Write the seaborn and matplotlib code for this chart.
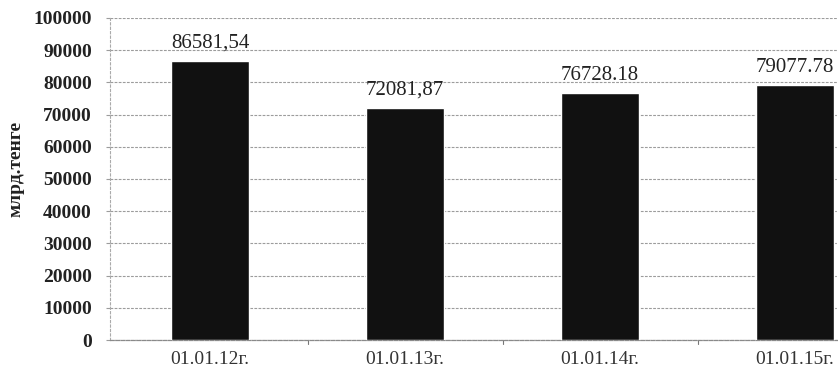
import matplotlib
matplotlib.use("Agg")
import matplotlib.pyplot as plt
import seaborn as sns
import pandas as pd

# Values on 1 January of each year, bn tenge
dates = ["01.01.12г.", "01.01.13г.", "01.01.14г.", "01.01.15г."]
values = [86581.54, 72081.87, 76728.18, 79077.78]
value_labels = ["86581,54", "72081,87", "76728.18", "79077.78"]
y_ticks = [0, 10000, 20000, 30000, 40000, 50000, 60000, 70000, 80000, 90000, 100000]

sns.set_style("white")
plt.rcParams["font.family"] = ["Liberation Serif", "DejaVu Serif"]

df = pd.DataFrame({"date": dates, "value": values})

fig = plt.figure(figsize=(8.38, 3.74), dpi=100)
ax = fig.add_axes([0.1313, 0.0909, 0.8687, 0.861])

sns.barplot(data=df, x="date", y="value", color="#111111", width=0.4,
            saturation=1, ax=ax, zorder=3)

ax.set_xlim(-0.513, 3.22)
ax.set_ylim(0, 100000)
ax.set_yticks(y_ticks)
ax.set_yticklabels([str(t) for t in y_ticks], fontsize=14, fontweight="bold", color="#222222")
ax.set_xticks(range(len(dates)))
ax.set_xticklabels(dates, fontsize=14, color="#333333")

# Fine dotted grey gridlines at each 10000
for t in y_ticks:
    ax.axhline(t, color="#9c9c9c", lw=0.8, ls=(0, (2.5, 1.2)), zorder=1)

for s in ["top", "right"]:
    ax.spines[s].set_visible(False)
ax.spines["left"].set_color("#aaaaaa")
ax.spines["left"].set_linestyle((0, (2, 2)))
ax.spines["left"].set_linewidth(0.8)
ax.spines["bottom"].set_color("#8a8a8a")
ax.spines["bottom"].set_linestyle((0, (3, 1.2)))
ax.spines["bottom"].set_linewidth(0.9)

ax.tick_params(axis="y", length=3, width=0.8, color="#9c9c9c", pad=10, left=True)
ax.tick_params(axis="x", length=0, pad=8)

# Category boundary ticks along the base line
for b in [0.5, 1.5, 2.5]:
    ax.plot([b, b], [0, -1200], color="#777777", lw=0.8, clip_on=False, zorder=2)

ax.set_xlabel("")
ax.set_ylabel("млрд.тенге", fontsize=14, fontweight="bold", color="#222222")
ax.yaxis.set_label_coords(-0.118, 0.53)

for i, (v, lab) in enumerate(zip(values, value_labels)):
    ax.annotate(lab, (i, v), xytext=(0, 6), textcoords="offset points",
                ha="center", va="bottom", fontsize=15, color="#222222")

fig.savefig("out.png", dpi=100)
